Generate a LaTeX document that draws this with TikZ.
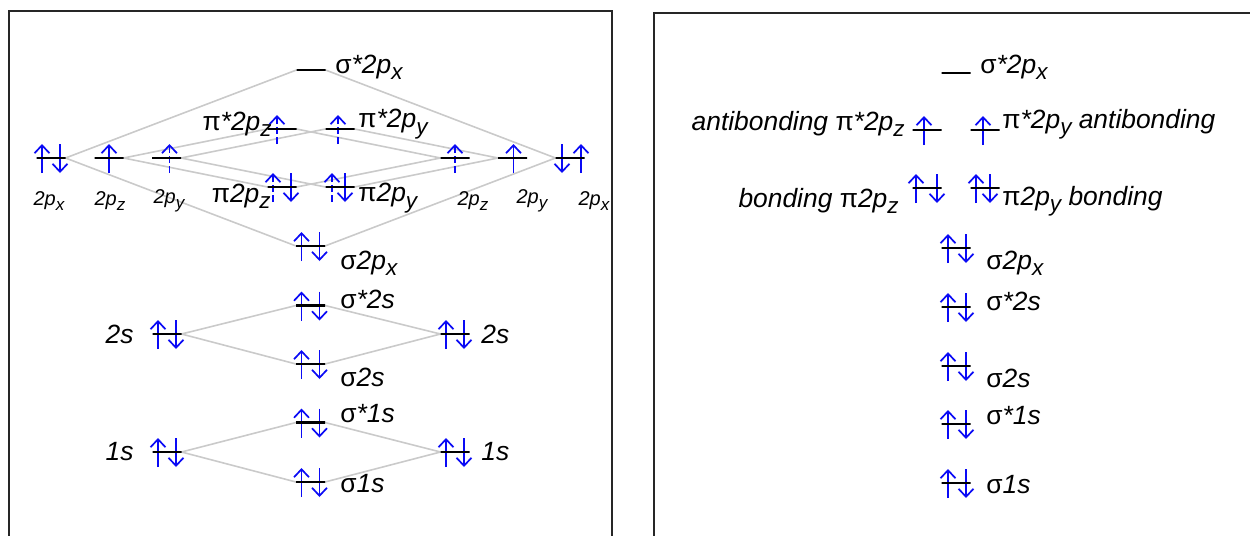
\documentclass[tikz,border=0pt]{standalone}
\usepackage{fontspec}
\setmainfont{Liberation Sans}
\usetikzlibrary{arrows.meta, calc, backgrounds}
\definecolor{linkgray}{HTML}{CACACA}
\definecolor{spinblue}{HTML}{0A0AF5}
\newcommand{\sig}{{\upshape σ}}
\newcommand{\ppi}{{\upshape π}}
\newcommand{\sub}[1]{\raisebox{-0.45ex}{\scalebox{0.85}{#1}}}
% electrons: [style]{level}{x offset}
\newcommand{\eup}[3][]{\draw[spin,#1] ($(#2)+(#3,15)$) -- ++(0,-29);}
\newcommand{\edn}[3][]{\draw[spin,#1] ($(#2)+(#3,-14)$) -- ++(0,29);}

\begin{document}
\begin{tikzpicture}[
    x=0.5pt, y=-0.5pt,
    level/.style={draw=black, line width=1.3pt, minimum width=14.5pt,
                  minimum height=0pt, inner sep=0pt, outer sep=0pt},
    link/.style={draw=linkgray, line width=0.8pt},
    spin/.style={draw=spinblue, line width=0.85pt,
                 -{Straight Barb[length=4pt, width=7.5pt]}},
    half/.style={dash pattern=on 3.5pt off 1.5pt},
    lab/.style={inner sep=0pt, font=\itshape\fontsize{13.2}{15}\selectfont},
    small/.style={inner sep=0pt, font=\itshape\fontsize{10}{12}\selectfont},
    frame/.style={draw=black!85, line width=0.7pt}
]
  \useasboundingbox (0,0) rectangle (1250,536);

  % Panels
  \draw[frame] (9,536) |- (612,11) -- (612,536);
  \draw[frame] (654,536) |- (1250,13);

  % Left panel: atomic levels
  \node[level] (pxl) at (51,158) {};
  \node[level] (pzl) at (109,158) {};
  \node[level] (pyl) at (166.5,158) {};
  \node[level] (pzr) at (455,158) {};
  \node[level] (pyr) at (512.5,158) {};
  \node[level] (pxr) at (570,158) {};
  \node[level] (s2l) at (167,334) {};
  \node[level] (s2r) at (455,334) {};
  \node[level] (s1l) at (167,452) {};
  \node[level] (s1r) at (455,452) {};

  % Left panel: molecular levels
  \node[level] (sas2px) at (311,70) {};
  \node[level] (pasz) at (282,129) {};
  \node[level] (pasy) at (340,129) {};
  \node[level] (pbz) at (282,187) {};
  \node[level] (pby) at (340,187) {};
  \node[level] (sb2px) at (310.5,246) {};
  \node[level] (sas2s) at (310.5,305.5) {};
  \node[level] (sb2s) at (310.5,364) {};
  \node[level] (sas1s) at (310.5,422.5) {};
  \node[level] (sb1s) at (310.5,482) {};

  % Right panel: molecular levels
  \node[level] (Rsas2px) at (956,73) {};
  \node[level] (Rpasz) at (927,130) {};
  \node[level] (Rpasy) at (985,130) {};
  \node[level] (Rpbz) at (927,188) {};
  \node[level] (Rpby) at (985,188) {};
  \node[level] (Rsb2px) at (956,248) {};
  \node[level] (Rsas2s) at (956,307) {};
  \node[level] (Rsb2s) at (956,366) {};
  \node[level] (Rsas1s) at (956,424) {};
  \node[level] (Rsb1s) at (956,483) {};

  \begin{scope}[on background layer]
    % correlation lines
    \foreach \m in {sas2px,sb2px} {
      \draw[link] (pxl.east) -- (\m.west);
      \draw[link] (pxr.west) -- (\m.east);
    }
    \foreach \m in {pasz,pbz} {
      \draw[link] (pzl.east) -- (\m.west);
      \draw[link] (pzr.west) -- (\m.east);
    }
    \foreach \m in {pasy,pby} {
      \draw[link] (pyl.east) -- (\m.west);
      \draw[link] (pyr.west) -- (\m.east);
    }
    \foreach \m in {sas2s,sb2s} {
      \draw[link] (s2l.east) -- (\m.west);
      \draw[link] (s2r.west) -- (\m.east);
    }
    \foreach \m in {sas1s,sb1s} {
      \draw[link] (s1l.east) -- (\m.west);
      \draw[link] (s1r.west) -- (\m.east);
    }

    % electrons
    \foreach \o in {pxl,s2l,s2r,s1l,s1r,sb2px,sas2s,sb2s,sas1s,sb1s} {
      \eup{\o}{-9} \edn{\o}{9}
    }
    \eup{pzl}{0}
    \eup[half]{pyl}{3}
    \eup[half]{pasz}{-5}
    \eup[half]{pasy}{-2}
    \eup[half]{pbz}{-9} \edn{pbz}{9}
    \eup[half]{pby}{-8} \edn{pby}{5}
    \eup[half]{pzr}{0}
    \eup{pyr}{1}
    \edn{pxr}{-8} \eup{pxr}{11}

    \foreach \o in {Rsb2px,Rsas2s,Rsb2s,Rsas1s,Rsb1s} {
      \eup{\o}{-8} \edn{\o}{10}
    }
    \eup{Rpasz}{-3}
    \eup{Rpasy}{-2}
    \eup{Rpbz}{-11} \edn{Rpbz}{10}
    \eup{Rpby}{-9} \edn{Rpby}{5}
  \end{scope}

  % Left panel labels
  \node[lab, anchor=west] (tsas2px) at (335,67) {\sig*2p\sub{x}};
  \node[lab, anchor=east] (tpasz) at (272,124) {\ppi*2p\sub{z}};
  \node[lab, anchor=west] (tpasy) at (358,124) {\ppi*2p\sub{y}};
  \node[lab, anchor=east] (tpbz) at (271,196) {\ppi2p\sub{z}};
  \node[lab, anchor=west] (tpby) at (358,198) {\ppi2p\sub{y}};
  \node[lab, anchor=west] (tsb2px) at (340,263) {\sig2p\sub{x}};
  \node[lab, anchor=west] (tsas2s) at (340,299) {\sig*2s};
  \node[lab, anchor=west] (tsb2s) at (340,377) {\sig2s};
  \node[lab, anchor=west] (tsas1s) at (340,414) {\sig*1s};
  \node[lab, anchor=west] (tsb1s) at (340,484) {\sig1s};
  \node[lab, anchor=east] (ts2l) at (134,334) {2s};
  \node[lab, anchor=west] (ts2r) at (481,334) {2s};
  \node[lab, anchor=east] (ts1l) at (134,452) {1s};
  \node[lab, anchor=west] (ts1r) at (481,452) {1s};

  \node[small] (tpxl) at (49,201) {2p\sub{x}};
  \node[small] (tpzl) at (110,201) {2p\sub{z}};
  \node[small] (tpyl) at (169,201) {2p\sub{y}};
  \node[small] (tpzr) at (473,201) {2p\sub{z}};
  \node[small] (tpyr) at (532,201) {2p\sub{y}};
  \node[small] (tpxr) at (594,201) {2p\sub{x}};

  % Right panel labels
  \node[lab, anchor=west] (Rtsas2px) at (980,67) {\sig*2p\sub{x}};
  \node[lab, anchor=east] (Rtpasz) at (905,124) {antibonding \ppi*2p\sub{z}};
  \node[lab, anchor=west] (Rtpasy) at (1002,124) {\ppi*2p\sub{y} antibonding};
  \node[lab, anchor=east] (Rtpbz) at (899,201) {bonding \ppi2p\sub{z}};
  \node[lab, anchor=west] (Rtpby) at (1002,201) {\ppi2p\sub{y} bonding};
  \node[lab, anchor=west] (Rtsb2px) at (986,263) {\sig2p\sub{x}};
  \node[lab, anchor=west] (Rtsas2s) at (986,301) {\sig*2s};
  \node[lab, anchor=west] (Rtsb2s) at (986,378) {\sig2s};
  \node[lab, anchor=west] (Rtsas1s) at (986,416) {\sig*1s};
  \node[lab, anchor=west] (Rtsb1s) at (986,485) {\sig1s};
\end{tikzpicture}
\end{document}
